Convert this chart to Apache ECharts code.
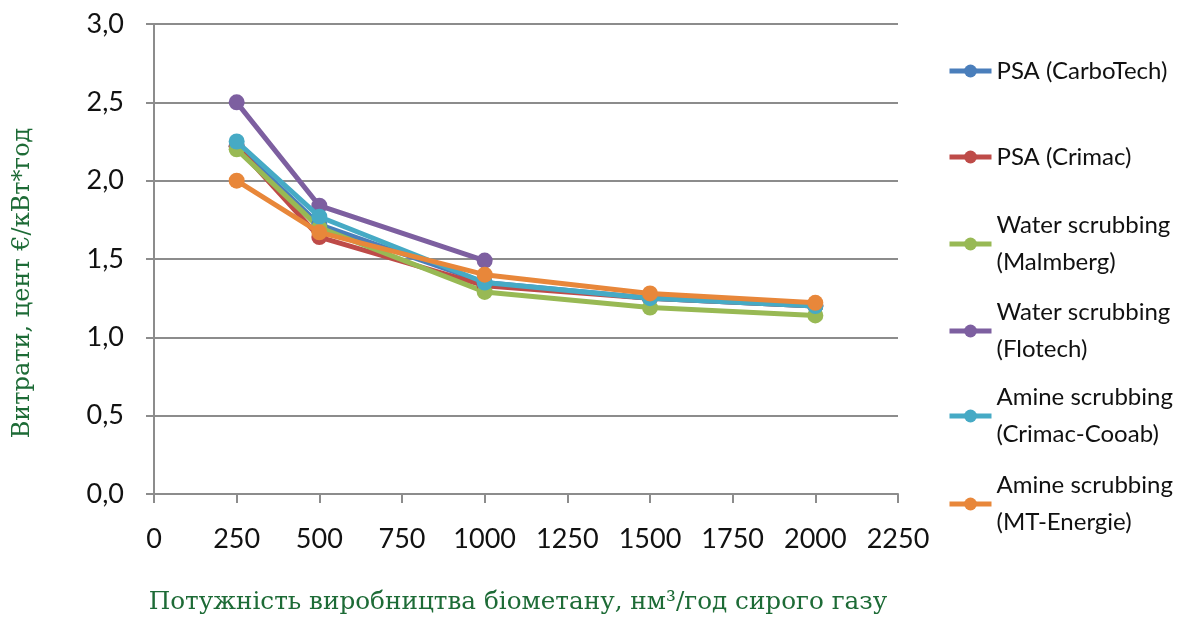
<!DOCTYPE html>
<html>
<head>
<meta charset="utf-8">
<script src="https://cdn.jsdelivr.net/npm/echarts@6/dist/echarts.min.js"></script>
<style>
  html, body { margin: 0; padding: 0; background: #fff; }
  #chart { width: 1179px; height: 617px; }
</style>
</head>
<body>
<div id="chart"></div>
<script>
// capacity, nm3/h raw gas
const capacity = [250, 500, 1000, 1500, 2000];

// cost, euro cent per kWh
const psaCarbotech   = [2.22, 1.72, 1.35, 1.25, 1.20];
const psaCrimac      = [2.22, 1.64, 1.33, 1.25, 1.20];
const waterMalmberg  = [2.20, 1.70, 1.29, 1.19, 1.14];
const waterFlotech   = [2.50, 1.84, 1.49];
const amineCooab     = [2.25, 1.77, 1.35, 1.25, 1.20];
const amineMtEnergie = [2.00, 1.67, 1.40, 1.28, 1.22];

const seriesNames = [
  'PSA (CarboTech)',
  'PSA (Crimac)',
  'Water scrubbing\n(Malmberg)',
  'Water scrubbing\n(Flotech)',
  'Amine scrubbing\n(Crimac-Cooab)',
  'Amine scrubbing\n(MT-Energie)'
];
const seriesValues = [psaCarbotech, psaCrimac, waterMalmberg, waterFlotech, amineCooab, amineMtEnergie];
const colors = ['#4a7ebb', '#be4b48', '#98b954', '#7d5fa0', '#46aac5', '#e8873a'];

const axisGray = '#8c8c8c';
const titleGreen = '#1d6b36';
const fontSans = 'Lato, "Open Sans", sans-serif';
const fontSerif = '"DejaVu Serif", "Liberation Serif", serif';

const chart = echarts.init(document.getElementById('chart'), null, { renderer: 'canvas' });

// legend slots: centre of first text line
const legendCenters = [71, 157, 244, 331, 416, 504];
const legends = seriesNames.map((name, i) => {
  const twoLine = name.indexOf('\n') >= 0;
  return {
    data: [name],
    left: 947,
    top: twoLine ? legendCenters[i] - 55.5 : legendCenters[i] - 18.5,
    padding: 0,
    itemWidth: 42,
    itemHeight: 16,
    itemGap: 0,
    textStyle: {
      fontFamily: fontSans,
      fontSize: 24,
      color: '#111',
      lineHeight: 37,
      padding: twoLine ? [37, 0, 0, 0] : 0
    },
    itemStyle: { borderWidth: 0 },
    lineStyle: { width: 5 }
  };
});

const series = seriesNames.map((name, i) => ({
  name: name,
  type: 'line',
  data: capacity.slice(0, seriesValues[i].length).map((c, k) => [c, seriesValues[i][k]]),
  color: colors[i],
  symbol: 'circle',
  symbolSize: 16,
  lineStyle: { width: 5 },
  itemStyle: { color: colors[i] },
  animation: false,
  z: 2 + (i === 4 ? 1 : 0) + (i === 5 ? 2 : 0)
}));

chart.setOption({
  backgroundColor: '#fff',
  animation: false,
  grid: { left: 154, right: 281, top: 24, bottom: 123, outerBoundsMode: 'none', containLabel: false },
  legend: legends,
  xAxis: {
    type: 'value',
    min: 0,
    max: 2250,
    interval: 250,
    name: 'Потужність виробництва біометану, нм³/год сирого газу',
    nameLocation: 'middle',
    nameGap: 96,
    nameTextStyle: { fontFamily: fontSerif, fontSize: 24.7, color: titleGreen, padding: [0, 16, 0, 0] },
    axisLine: { show: true, lineStyle: { color: axisGray, width: 2 } },
    axisTick: { show: true, length: 9, lineStyle: { color: axisGray, width: 2 } },
    axisLabel: {
      fontFamily: fontSans, fontSize: 27, color: '#111', margin: 32,
      formatter: v => String(v)
    },
    splitLine: { show: false }
  },
  yAxis: {
    type: 'value',
    min: 0,
    max: 3,
    interval: 0.5,
    name: 'Витрати, цент €/кВт*год',
    nameLocation: 'middle',
    nameGap: 119,
    nameTextStyle: { fontFamily: fontSerif, fontSize: 24, color: titleGreen, padding: [0, 48, 0, 0] },
    axisLine: { show: true, lineStyle: { color: axisGray, width: 2 } },
    axisTick: { show: true, inside: false, length: 8, lineStyle: { color: axisGray, width: 2 } },
    axisLabel: {
      fontFamily: fontSans, fontSize: 27, color: '#111', margin: 30,
      formatter: v => v.toFixed(1).replace('.', ',')
    },
    splitLine: { show: true, lineStyle: { color: axisGray, width: 2 } }
  },
  series: series
});
</script>
</body>
</html>
